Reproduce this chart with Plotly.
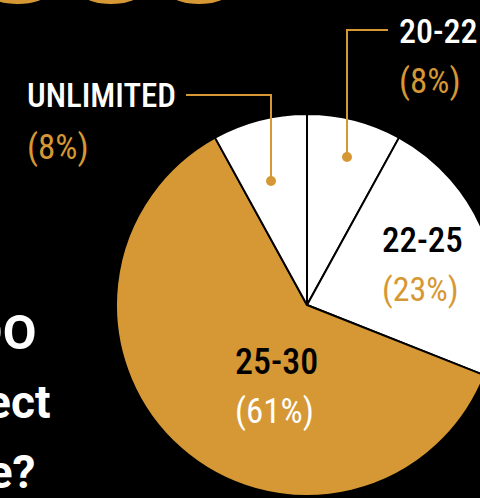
import plotly.graph_objects as go

# ---- data ----
labels = ["20-22", "22-25", "25-30", "UNLIMITED"]
values = [8, 23, 61, 8]
pct_text = ["(8%)", "(23%)", "(61%)", "(8%)"]
slice_colors = ["#FFFFFF", "#FFFFFF", "#D69834", "#FFFFFF"]

ORANGE = "#D69834"
W, H = 500, 498

def px(x):
    return x / W

def py(y):
    return 1 - y / H

fig = go.Figure()

# pie: centre (307,305) px, radius 191 px
fig.add_trace(go.Pie(
    labels=labels, values=values, sort=False, direction="clockwise", rotation=0,
    marker=dict(colors=slice_colors, line=dict(color="#000000", width=2)),
    textinfo="none", hoverinfo="label+percent", showlegend=False,
    domain=dict(x=[px(116), px(498)], y=[py(496), py(114)]),
))

FONT_LAB = "Roboto Condensed, Open Sans Condensed, Noto Sans Condensed, DejaVu Sans Condensed, sans-serif"
label_pos = {  # left x, centre y label, centre y pct, label colour, pct colour, label size, pct size
    "20-22": (397, 31, 81, "#FFFFFF", ORANGE, 34, 35),
    "22-25": (380, 240, 289, "#000000", ORANGE, 35, 34),
    "25-30": (233, 362, 411, "#000000", "#FFFFFF", 36, 35),
    "UNLIMITED": (25, 96, 147, "#FFFFFF", ORANGE, 33, 35),
}
for lab, pct in zip(labels, pct_text):
    x, y1, y2, c1, c2, s1, s2 = label_pos[lab]
    fig.add_annotation(x=px(x), y=py(y1), xref="paper", yref="paper", text=lab,
                       showarrow=False, xanchor="left", yanchor="middle",
                       font=dict(family=FONT_LAB, size=s1, color=c1, weight=500))
    fig.add_annotation(x=px(x), y=py(y2), xref="paper", yref="paper", text=pct,
                       showarrow=False, xanchor="left", yanchor="middle",
                       font=dict(family=FONT_LAB, size=s2, color=c2))

shapes = []
# connector for UNLIMITED
shapes.append(dict(type="path", xref="paper", yref="paper",
                   path=f"M {px(186)} {py(95)} L {px(271)} {py(95)} L {px(271)} {py(181)}",
                   line=dict(color=ORANGE, width=2)))
# connector for 20-22
shapes.append(dict(type="path", xref="paper", yref="paper",
                   path=f"M {px(388)} {py(30)} L {px(347)} {py(30)} L {px(347)} {py(157)}",
                   line=dict(color=ORANGE, width=2)))
for (cx, cy) in [(271, 181), (347, 157)]:
    shapes.append(dict(type="circle", xref="paper", yref="paper",
                       x0=px(cx - 5), x1=px(cx + 5), y0=py(cy + 5), y1=py(cy - 5),
                       fillcolor=ORANGE, line=dict(width=0)))
# decorative orange circles cut by top edge
for cx in [18, 111, 199]:
    shapes.append(dict(type="circle", xref="paper", yref="paper",
                       x0=px(cx - 28), x1=px(cx + 28), y0=py(4), y1=py(-16),
                       fillcolor=ORANGE, line=dict(width=0), layer="below"))

# heading text partly outside the view on the left
FONT_H = "Roboto, Inter, sans-serif"
heading = [("WHEN DO", 38, 332, 49), ("you expect", 52, 402, 46), ("to retire?", 38, 472, 46)]
for txt, xr, yc, fs in heading:
    fig.add_annotation(x=px(xr), y=py(yc), xref="paper", yref="paper", text=f"<b>{txt}</b>",
                       showarrow=False, xanchor="right", yanchor="middle",
                       font=dict(family=FONT_H, size=fs, color="#FFFFFF"))

fig.update_layout(width=W, height=H, margin=dict(l=0, r=0, t=0, b=0),
                  paper_bgcolor="#000000", plot_bgcolor="#000000",
                  shapes=shapes, showlegend=False)

fig.write_html("out.html",
               post_script="document.documentElement.style.overflow='hidden';document.body.style.overflow='hidden';")
